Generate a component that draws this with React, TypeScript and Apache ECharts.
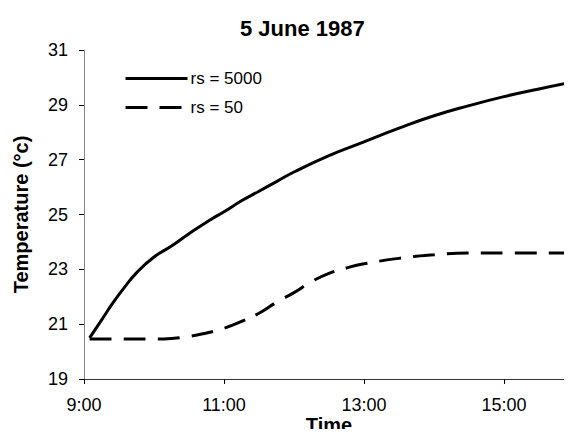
import React, { useEffect, useRef } from "react";
import * as echarts from "echarts";

const titleText = "5 June 1987";
const xName = "Time";
const yName = "Temperature (°c)";
const seriesNames = ["rs = 5000", "rs = 50"];

// time in hours, temperature in °C
const hoursA = [9.08, 9.25, 9.42, 9.58, 9.75, 10.0, 10.25, 10.5, 10.8, 11.0, 11.25, 11.5, 11.75, 12.0, 12.5, 13.0, 13.5, 14.0, 14.5, 15.0, 15.5, 16.0];
const tempA = [20.5, 21.15, 21.8, 22.35, 22.87, 23.45, 23.85, 24.3, 24.8, 25.1, 25.5, 25.85, 26.2, 26.55, 27.15, 27.65, 28.15, 28.6, 28.97, 29.3, 29.58, 29.84];

const hoursB = [9.08, 9.5, 10.0, 10.25, 10.5, 10.75, 11.0, 11.25, 11.5, 11.75, 12.0, 12.25, 12.5, 12.75, 13.0, 13.5, 14.0, 14.5, 15.0, 16.0];
const tempB = [20.46, 20.46, 20.46, 20.48, 20.55, 20.68, 20.85, 21.1, 21.4, 21.8, 22.15, 22.55, 22.85, 23.05, 23.2, 23.4, 23.53, 23.6, 23.6, 23.6];

const FONT = "'Liberation Sans', Arial, sans-serif";

export default function App() {
  const ref = useRef<HTMLDivElement>(null);
  useEffect(() => {
    if (!ref.current) return;
    const chart = echarts.init(ref.current, null, { renderer: "svg" });
    chart.setOption({
      animation: false,
      backgroundColor: "#ffffff",
      textStyle: { fontFamily: FONT },
      title: {
        text: titleText,
        left: 235,
        top: 12,
        textStyle: { fontSize: 22, fontWeight: "bold", color: "#000", fontFamily: FONT },
      },
      legend: {
        orient: "vertical",
        left: 124,
        top: 70,
        padding: 0,
        itemGap: 12,
        itemWidth: 62,
        itemHeight: 14,
        itemStyle: { opacity: 0 },
        lineStyle: { width: 3 },
        textStyle: { fontSize: 17, color: "#000", fontFamily: FONT, padding: [0, 0, 0, -2] },
        data: seriesNames,
      },
      grid: { left: 84, top: 50, width: 490, height: 329, outerBoundsMode: "none", containLabel: false },
      xAxis: {
        type: "value",
        min: 9,
        max: 16,
        interval: 2,
        name: xName,
        nameLocation: "middle",
        nameGap: 36,
        nameMoveOverlap: false,
        nameTextStyle: { fontSize: 20, fontWeight: "bold", color: "#000", fontFamily: FONT },
        axisLine: { lineStyle: { color: "#333", width: 1 } },
        axisTick: { length: 5, lineStyle: { color: "#000" } },
        axisLabel: {
          fontSize: 18,
          color: "#000",
          margin: 17,
          fontFamily: FONT,
          showMaxLabel: false,
          formatter: (v: number) => `${v}:00`,
        },
        splitLine: { show: false },
      },
      yAxis: {
        type: "value",
        min: 19,
        max: 31,
        interval: 2,
        name: yName,
        nameLocation: "middle",
        nameGap: 53,
        nameMoveOverlap: false,
        nameTextStyle: { fontSize: 20, fontWeight: "bold", color: "#000", fontFamily: FONT },
        axisLine: { show: true, lineStyle: { color: "#888", width: 1 } },
        axisTick: { show: true, length: 5, lineStyle: { color: "#000" } },
        axisLabel: { fontSize: 18, color: "#000", margin: 16, fontFamily: FONT },
        splitLine: { show: false },
      },
      series: [
        {
          name: seriesNames[0],
          type: "line",
          data: hoursA.map((h, i) => [h, tempA[i]]),
          smooth: true,
          symbol: "none",
          lineStyle: { color: "#000", width: 3, type: "solid" },
          itemStyle: { color: "#000" },
        },
        {
          name: seriesNames[1],
          type: "line",
          data: hoursB.map((h, i) => [h, tempB[i]]),
          smooth: true,
          symbol: "none",
          lineStyle: { color: "#000", width: 3, type: [22, 12] },
          itemStyle: { color: "#000" },
        },
      ],
    });
    return () => chart.dispose();
  }, []);
  return <div ref={ref} style={{ width: 572, height: 437, margin: -8 }} />;
}
